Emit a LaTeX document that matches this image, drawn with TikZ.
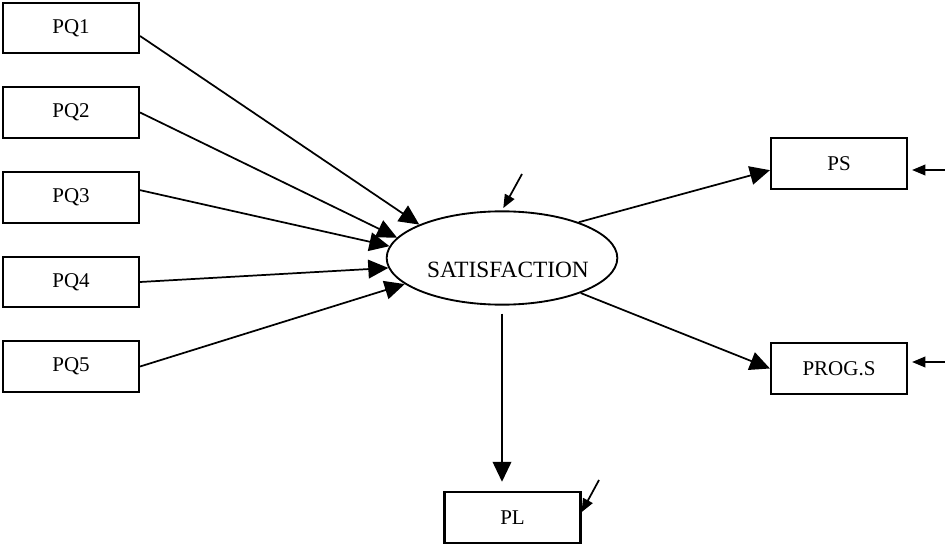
\documentclass[tikz,border=0pt]{standalone}
\usepackage{fontspec}
\setmainfont{Liberation Serif}
\usetikzlibrary{arrows.meta,shapes.geometric}

\begin{document}
\begin{tikzpicture}[
  x=0.75pt, y=-0.75pt,
  every node/.style={font=\fontsize{15.75}{18}\selectfont},
  obs/.style={draw, rectangle, line width=1.6pt, minimum width=102pt, minimum height=38pt, inner sep=0pt},
  latent/.style={draw, ellipse, line width=1.4pt, minimum width=173pt, minimum height=70pt, inner sep=0pt},
  arr/.style={-{Triangle[length=15pt, width=14pt]}, line width=1.3pt},
  errarr/.style={-{Triangle[length=10pt, width=8pt]}, line width=1.3pt}
]

\useasboundingbox (0,0) rectangle (945,545);

% Indicators of perceived quality
\node[obs] (pq1) at (71,28) {PQ1};
\node[obs] (pq2) at (71,112.5) {PQ2};
\node[obs] (pq3) at (71,197.5) {PQ3};
\node[obs] (pq4) at (71,282) {PQ4};
\node[obs] (pq5) at (71,366.5) {PQ5};

% Latent variable
\node[latent] (sat) at (502,258) {};
\node (sattext) at (508,270) {\fontsize{17.5}{20}\selectfont SATISFACTION};

% Outcomes
\node[obs] (ps) at (839,163.5) {PS};
\node[obs] (prog) at (839,368.5) {PROG.S};
\node[obs] (pl) at (512.5,517.5) {PL};

% Error terms
\coordinate (esat) at (522,174);
\coordinate (eps) at (945,170);
\coordinate (eprog) at (945,362);
\coordinate (epl) at (599,480);

% Paths into satisfaction
\draw[arr] ([yshift=-6pt]pq1.east) -- (sat.158);
\draw[arr] (pq2.east) -- (sat.169);
\draw[arr] ([yshift=5.5pt]pq3.east) -- (sat.174);
\draw[arr] (pq4.east) -- (sat.185);
\draw[arr] (pq5.east) -- (sat.195);

% Paths out of satisfaction
\draw[arr] (sat.25) -- ([yshift=-5pt]ps.west);
\draw[arr] (sat.336) -- (prog.west);
\draw[arr, shorten <=6pt, shorten >=7pt] (sat.south) -- (sat.south |- pl.north);

% Error arrows
\draw[errarr, shorten >=2pt] (esat) -- (sat.north);
\draw[errarr, shorten >=3pt] (eps) -- (eps -| ps.east);
\draw[errarr, shorten >=3pt] (eprog) -- (eprog -| prog.east);
\draw[errarr] (epl) -- ([yshift=4pt]pl.east);

\end{tikzpicture}
\end{document}
